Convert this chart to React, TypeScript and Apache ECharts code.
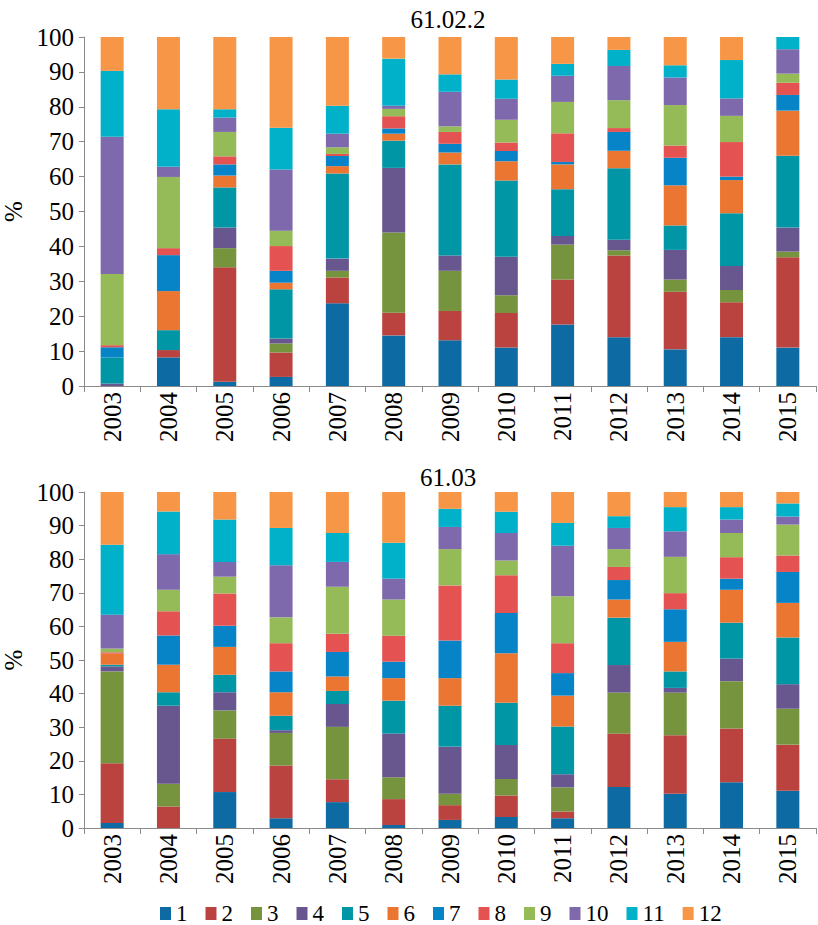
import React, { useEffect, useRef } from "react";
import * as echarts from "echarts";

const years = ["2003", "2004", "2005", "2006", "2007", "2008", "2009", "2010", "2011", "2012", "2013", "2014", "2015"];
const seriesNames = ["1", "2", "3", "4", "5", "6", "7", "8", "9", "10", "11", "12"];
const colors = ["#0E6AA3", "#BA4340", "#76943D", "#68568F", "#0196A6", "#EB7631", "#0684C7", "#E45252", "#95BA58", "#7E69AC", "#00B1C9", "#F79646"];
const yTicks = [0, 10, 20, 30, 40, 50, 60, 70, 80, 90, 100];

const titleTop = "61.02.2";
const titleBottom = "61.03";

// 61.02.2 shares (%) per series, 2003..2015
const top1 = [0, 8.2, 1.2, 2.6, 23.7, 14.5, 13.1, 11.0, 17.6, 14.0, 10.5, 14.0, 11.0];
const top2 = [0, 2.1, 32.8, 7.0, 7.4, 6.5, 8.4, 9.9, 12.9, 23.4, 16.5, 10.0, 25.9];
const top3 = [0, 0, 5.5, 2.6, 1.9, 23.0, 11.5, 5.1, 10.0, 1.5, 3.5, 3.5, 1.6];
const top4 = [0.7, 0, 5.9, 1.4, 3.5, 18.5, 4.4, 11.0, 2.5, 3.0, 8.5, 6.9, 6.9];
const top5 = [7.5, 5.7, 11.5, 14.1, 24.4, 7.8, 26.1, 21.9, 13.4, 20.5, 7.0, 15.1, 20.6];
const top6 = [0, 11.2, 3.4, 1.9, 2.1, 2.0, 3.4, 5.5, 7.1, 5.0, 11.5, 9.5, 12.9];
const top7 = [2.9, 10.3, 3.2, 3.4, 2.9, 1.5, 2.5, 2.9, 0.7, 5.4, 7.9, 1.0, 4.5];
const top8 = [0.6, 2.0, 2.3, 7.1, 0.6, 3.5, 3.4, 2.5, 8.2, 1.1, 3.5, 9.9, 3.5];
const top9 = [20.4, 20.4, 7.0, 4.4, 1.9, 2.1, 1.6, 6.5, 9.0, 8.0, 11.6, 7.5, 2.6];
const top10 = [39.3, 2.9, 4.1, 17.5, 3.9, 0.9, 9.9, 6.0, 7.5, 9.8, 7.9, 5.0, 7.0];
const top11 = [18.9, 16.5, 2.4, 12.0, 8.0, 13.5, 5.0, 5.5, 3.4, 4.6, 3.5, 11.0, 3.5];
const top12 = [9.7, 20.7, 20.7, 26.0, 19.7, 6.2, 10.7, 12.2, 7.7, 3.7, 8.1, 6.6, 0];

// 61.03 shares (%) per series, 2003..2015
const bot1 = [1.5, 0, 10.7, 2.9, 7.7, 0.9, 2.4, 3.3, 2.9, 12.2, 10.2, 13.6, 11.1];
const bot2 = [17.8, 6.4, 15.9, 15.7, 6.8, 7.7, 4.4, 6.4, 2.0, 15.9, 17.4, 16.0, 13.7];
const bot3 = [27.3, 6.8, 8.4, 9.7, 15.6, 6.5, 3.4, 4.9, 7.2, 12.2, 12.7, 14.1, 10.7];
const bot4 = [1.5, 23.2, 5.4, 0.8, 6.8, 13.0, 14.0, 10.1, 3.9, 8.2, 1.4, 6.7, 7.3];
const bot5 = [0.5, 4.0, 5.2, 4.3, 3.9, 9.8, 12.2, 12.6, 14.2, 14.1, 4.9, 10.7, 13.9];
const bot6 = [3.3, 8.2, 8.3, 7.0, 4.3, 6.7, 8.2, 14.7, 9.2, 5.4, 8.8, 9.8, 10.3];
const bot7 = [0, 8.7, 6.3, 6.2, 7.3, 4.9, 11.2, 12.0, 6.7, 5.8, 9.7, 3.3, 9.2];
const bot8 = [0.4, 7.2, 9.6, 8.4, 5.4, 7.7, 16.4, 11.2, 8.9, 3.9, 4.8, 6.4, 4.9];
const bot9 = [1.1, 6.4, 5.0, 7.7, 14.0, 10.8, 10.8, 4.4, 14.0, 5.3, 10.8, 7.2, 9.2];
const bot10 = [10.1, 10.6, 4.4, 15.5, 7.4, 6.2, 6.6, 8.2, 15.0, 6.3, 7.6, 4.0, 2.4];
const bot11 = [20.8, 12.7, 12.6, 11.1, 8.6, 10.7, 5.4, 6.3, 6.8, 3.5, 7.2, 3.7, 3.9];
const bot12 = [15.7, 5.8, 8.2, 10.7, 12.2, 15.1, 5.0, 5.9, 9.2, 7.2, 4.5, 4.5, 3.4];

const topData = [top1, top2, top3, top4, top5, top6, top7, top8, top9, top10, top11, top12];
const botData = [bot1, bot2, bot3, bot4, bot5, bot6, bot7, bot8, bot9, bot10, bot11, bot12];

const FONT = "Liberation Serif";
const FS = 25;
const AXIS_GRAY = "#8a8a8a";

export default function App() {
  const ref = useRef<HTMLDivElement>(null);

  useEffect(() => {
    document.body.style.margin = "0";
    if (!ref.current) return;
    const chart = echarts.init(ref.current, undefined, { renderer: "svg" });

    const xAxisBase = (gridIndex: number) => ({
      type: "category" as const,
      gridIndex,
      data: years,
      axisLine: { show: true, lineStyle: { color: AXIS_GRAY, width: 1 } },
      axisTick: { show: true, length: 6, lineStyle: { color: AXIS_GRAY } },
      axisLabel: {
        rotate: 90,
        margin: 6,
        color: "#000",
        fontFamily: FONT,
        fontSize: FS,
      },
    });
    const yAxisBase = (gridIndex: number) => ({
      type: "value" as const,
      gridIndex,
      min: yTicks[0],
      max: yTicks[yTicks.length - 1],
      interval: 10,
      name: "%",
      nameLocation: "middle" as const,
      nameGap: 44,
      nameRotate: 90,
      nameTextStyle: { color: "#000", fontFamily: FONT, fontSize: FS },
      axisLine: { show: true, lineStyle: { color: AXIS_GRAY, width: 1 } },
      axisTick: { show: true, length: 5, lineStyle: { color: AXIS_GRAY } },
      splitLine: { show: false },
      axisLabel: { color: "#000", fontFamily: FONT, fontSize: FS, margin: 10 },
    });

    const series: any[] = [];
    seriesNames.forEach((name, i) => {
      series.push({
        name,
        type: "bar",
        stack: "top",
        xAxisIndex: 0,
        yAxisIndex: 0,
        barWidth: 23,
        itemStyle: { color: colors[i] },
        data: topData[i],
      });
    });
    seriesNames.forEach((name, i) => {
      series.push({
        name,
        type: "bar",
        stack: "bottom",
        xAxisIndex: 1,
        yAxisIndex: 1,
        barWidth: 23,
        itemStyle: { color: colors[i] },
        data: botData[i],
      });
    });

    chart.setOption({
      animation: false,
      color: colors,
      textStyle: { fontFamily: FONT },
      grid: [
        { left: 84, top: 37, width: 732, height: 349, containLabel: false, outerBoundsMode: "none" },
        { left: 84, top: 492, width: 732, height: 336, containLabel: false, outerBoundsMode: "none" },
      ],
      xAxis: [xAxisBase(0), xAxisBase(1)],
      yAxis: [yAxisBase(0), yAxisBase(1)],
      legend: {
        data: seriesNames,
        top: 897,
        left: 155,
        icon: "rect",
        itemWidth: 11,
        itemHeight: 13,
        itemGap: 18,
        textStyle: { color: "#000", fontFamily: FONT, fontSize: 23, lineHeight: 20 },
      },
      graphic: [
        {
          type: "text",
          x: 448,
          y: 19,
          style: { text: titleTop, fontFamily: FONT, fontSize: FS, fill: "#000", textAlign: "center", textVerticalAlign: "middle" },
        },
        {
          type: "text",
          x: 448,
          y: 477,
          style: { text: titleBottom, fontFamily: FONT, fontSize: FS, fill: "#000", textAlign: "center", textVerticalAlign: "middle" },
        },
      ],
      series,
    });

    return () => chart.dispose();
  }, []);

  return <div ref={ref} style={{ width: 818, height: 925 }} />;
}
